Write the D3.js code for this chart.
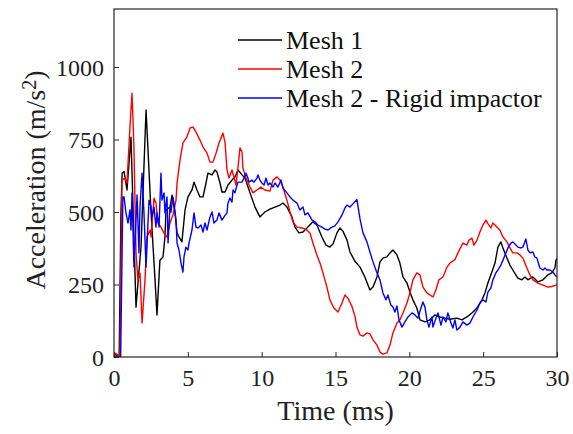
<!DOCTYPE html>
<html>
<head>
<meta charset="utf-8">
<script src="https://cdn.jsdelivr.net/npm/d3@7"></script>
<style>
  html, body { margin: 0; padding: 0; background: #fff; }
  svg { display: block; }
</style>
</head>
<body>
<svg id="chart" width="573" height="434"></svg>
<script>
// Acceleration histories: [time (ms), acceleration (m/s^2)]
const mesh1 = [
  [0,10],[0.2,5],[0.35,0],[0.47,500],[0.55,634],[0.68,640],[0.88,576],[1.15,758],[1.49,172],[1.83,380],
  [2.17,852],[2.51,497],[2.78,265],[2.91,145],[3.11,334],[3.32,345],[3.45,414],[3.52,507],[3.79,517],[3.93,558],
  [4.13,497],[4.27,428],[4.40,414],[4.60,397],[4.81,507],[5.01,552],[5.28,576],[5.42,603],[5.62,576],[5.82,552],
  [6.03,552],[6.23,600],[6.36,634],[6.64,628],[6.84,645],[6.97,638],[7.18,600],[7.31,569],[7.52,569],[7.72,593],
  [7.99,610],[8.19,621],[8.40,645],[8.67,628],[8.87,617],[9.21,566],[9.55,517],[9.88,483],[10.22,500],[10.56,510],
  [10.90,517],[11.24,524],[11.44,531],[11.71,517],[12.05,483],[12.25,448],[12.53,428],[12.80,431],[13.13,448],[13.47,466],
  [13.74,455],[14.08,414],[14.35,386],[14.62,379],[14.83,390],[15.10,428],[15.30,445],[15.50,434],[15.78,403],[15.98,362],
  [16.32,330],[16.66,310],[16.99,276],[17.33,231],[17.54,241],[17.81,276],[18.01,328],[18.21,341],[18.48,345],[18.69,359],
  [18.89,369],[19.16,352],[19.36,324],[19.57,276],[19.84,255],[20.04,224],[20.24,197],[20.51,169],[20.72,128],[21.06,121],
  [21.39,128],[21.73,145],[22.07,138],[22.41,134],[22.75,130],[23.22,134],[23.56,128],[23.90,138],[24.24,152],[24.58,169],
  [24.92,197],[25.12,221],[25.32,255],[25.59,293],[25.80,324],[26.00,379],[26.20,397],[26.34,376],[26.61,341],[26.81,317],
  [27.01,300],[27.35,272],[27.62,266],[27.83,276],[28.03,266],[28.37,276],[28.71,259],[29.05,266],[29.38,283],[29.65,290],
  [29.86,307],[29.93,334],[30,340]
];

const mesh2 = [
  [0,15],[0.2,10],[0.4,0],[0.54,610],[0.74,617],[0.88,600],[1.08,793],[1.22,910],[1.35,724],[1.49,359],
  [1.62,265],[1.76,290],[1.90,117],[2.10,265],[2.23,414],[2.44,438],[2.51,414],[2.71,548],[2.84,531],[2.98,462],
  [3.18,448],[3.45,421],[3.59,414],[3.79,462],[3.99,490],[4.20,541],[4.27,600],[4.47,679],[4.67,738],[4.94,759],
  [5.15,790],[5.35,793],[5.55,776],[5.82,748],[6.03,724],[6.30,703],[6.50,672],[6.70,672],[6.91,703],[7.11,738],
  [7.38,772],[7.52,740],[7.65,645],[7.79,617],[7.99,645],[8.12,621],[8.26,593],[8.40,655],[8.53,721],[8.67,707],
  [8.73,652],[8.94,617],[9.21,586],[9.41,566],[9.68,576],[9.95,586],[10.22,576],[10.56,572],[10.77,610],[11.04,621],
  [11.24,610],[11.44,586],[11.71,541],[11.92,500],[12.12,466],[12.39,448],[12.73,445],[13.07,438],[13.27,428],[13.47,393],
  [13.74,352],[13.95,324],[14.15,290],[14.42,241],[14.62,197],[14.89,169],[15.17,155],[15.44,186],[15.64,214],[15.84,203],
  [16.11,175],[16.32,140],[16.45,103],[16.66,76],[16.86,72],[17.13,83],[17.33,80],[17.54,59],[17.81,41],[18.01,17],
  [18.21,10],[18.48,14],[18.69,41],[18.89,83],[19.16,117],[19.36,128],[19.57,152],[19.84,186],[20.04,221],[20.24,266],
  [20.51,290],[20.72,283],[20.92,241],[21.19,221],[21.39,214],[21.60,207],[21.80,231],[22.00,266],[22.28,276],[22.55,310],
  [22.75,324],[23.09,336],[23.29,359],[23.63,393],[23.90,386],[24.04,403],[24.24,410],[24.37,386],[24.58,403],[24.78,431],
  [24.98,455],[25.19,472],[25.32,460],[25.52,445],[25.66,462],[25.93,448],[26.13,438],[26.34,414],[26.61,397],[26.81,376],
  [27.01,359],[27.29,359],[27.49,352],[27.69,341],[27.96,307],[28.17,283],[28.37,266],[28.71,255],[29.05,248],[29.38,241],
  [29.65,243],[29.93,248],[30,250]
];

const mesh2Rigid = [
  [0,0],[0.45,0],[0.6,552],[0.68,552],[0.81,497],[0.95,462],[1.08,507],[1.15,438],[1.22,566],[1.35,310],
  [1.49,472],[1.56,559],[1.69,359],[1.76,517],[1.90,634],[2.03,497],[2.17,310],[2.23,379],[2.37,541],[2.51,517],
  [2.57,483],[2.71,517],[2.84,448],[2.91,497],[3.05,448],[3.18,634],[3.25,541],[3.39,566],[3.45,497],[3.59,552],
  [3.66,393],[3.79,517],[3.86,500],[3.99,552],[4.06,531],[4.20,472],[4.27,393],[4.40,369],[4.54,324],[4.67,293],
  [4.74,345],[4.87,379],[5.01,369],[5.08,393],[5.28,438],[5.42,497],[5.55,448],[5.69,445],[5.89,455],[6.03,431],
  [6.16,462],[6.30,438],[6.50,483],[6.64,500],[6.77,462],[6.97,472],[7.11,497],[7.31,472],[7.45,483],[7.65,497],
  [7.72,531],[7.85,548],[7.99,534],[8.06,576],[8.19,566],[8.33,593],[8.40,603],[8.67,603],[8.80,617],[8.94,634],
  [9.07,617],[9.14,603],[9.34,610],[9.48,603],[9.68,617],[9.75,628],[9.88,610],[10.02,600],[10.16,593],[10.29,617],
  [10.43,593],[10.56,600],[10.77,586],[10.90,600],[11.10,586],[11.31,610],[11.44,583],[11.71,566],[11.92,552],[12.12,541],
  [12.39,531],[12.59,507],[12.80,517],[12.93,490],[13.13,497],[13.41,472],[13.61,466],[13.81,455],[14.08,448],[14.29,441],
  [14.49,438],[14.76,448],[14.96,452],[15.17,466],[15.44,490],[15.64,514],[15.78,524],[15.98,517],[16.18,528],[16.45,543],
  [16.52,520],[16.66,476],[16.86,428],[17.13,397],[17.33,362],[17.54,328],[17.81,290],[18.01,266],[18.21,221],[18.42,197],
  [18.55,214],[18.75,179],[18.89,172],[19.02,155],[19.16,176],[19.30,128],[19.50,103],[19.70,121],[19.91,138],[20.18,152],
  [20.38,145],[20.58,134],[20.79,169],[20.92,190],[21.06,172],[21.19,128],[21.33,103],[21.53,138],[21.60,103],[21.80,134],
  [21.94,152],[22.14,110],[22.28,138],[22.48,121],[22.61,152],[22.82,117],[22.95,100],[23.09,128],[23.22,93],[23.43,103],
  [23.63,121],[23.90,110],[24.10,117],[24.31,138],[24.58,162],[24.78,186],[24.98,197],[25.19,190],[25.32,224],[25.52,238],
  [25.66,266],[25.86,290],[26.00,300],[26.20,317],[26.34,334],[26.54,359],[26.68,376],[26.88,393],[27.01,397],[27.22,386],
  [27.35,379],[27.56,376],[27.69,379],[27.89,407],[28.03,369],[28.17,359],[28.37,362],[28.50,345],[28.64,341],[28.84,307],
  [29.05,300],[29.18,307],[29.32,300],[29.52,300],[29.72,293],[29.86,283],[30,276]
];

const seriesNames = ["Mesh 1", "Mesh 2", "Mesh 2 - Rigid impactor"];
const seriesColors = ["#000000", "#ff0000", "#0000ff"];
const seriesData = [mesh1, mesh2, mesh2Rigid];

const xTicks = [0, 5, 10, 15, 20, 25, 30];
const yTicks = [0, 250, 500, 750, 1000];
const xDomain = [0, 30];
const yDomain = [0, 1200];

const margin = { left: 114, right: 16, top: 9, bottom: 77 };
const W = 573, H = 434;
const svg = d3.select("#chart");
const axisColor = "#262626";
const FONT = "Liberation Serif";

const x = d3.scaleLinear().domain(xDomain).range([margin.left, W - margin.right]);
const y = d3.scaleLinear().domain(yDomain).range([H - margin.bottom, margin.top]);

svg.append("defs").append("clipPath").attr("id", "plotclip")
  .append("rect")
  .attr("x", x(0)).attr("y", y(1200))
  .attr("width", x(30) - x(0)).attr("height", y(0) - y(1200));

// Curves
const line = d3.line().x(d => x(d[0])).y(d => y(d[1]));
const curves = svg.append("g").attr("clip-path", "url(#plotclip)");
seriesData.forEach((data, i) => {
  curves.append("path")
    .datum(data)
    .attr("d", line)
    .attr("fill", "none")
    .attr("stroke", seriesColors[i])
    .attr("stroke-width", 1.4)
    .attr("stroke-linejoin", "round");
});

// Axes with inward ticks
const xAxis = d3.axisBottom(x).tickValues(xTicks).tickSize(-5).tickPadding(12).tickFormat(d3.format("d"));
const yAxis = d3.axisLeft(y).tickValues(yTicks).tickSize(-5).tickPadding(10).tickFormat(d3.format("d"));

const gx = svg.append("g").attr("transform", `translate(0,${y(0)})`).call(xAxis);
const gy = svg.append("g").attr("transform", `translate(${x(0)},0)`).call(yAxis);

[gx, gy].forEach(g => {
  g.attr("font-family", null).attr("font-size", null);
  g.select(".domain").remove();
  g.selectAll(".tick line").attr("stroke", axisColor).attr("stroke-width", 1);
  g.selectAll(".tick text")
    .attr("fill", "#222")
    .attr("font-family", FONT)
    .attr("font-size", 24);
});
gx.selectAll(".tick text").attr("dy", "0.71em");
gy.selectAll(".tick text").attr("dy", "0.34em");

// Frame
svg.append("rect")
  .attr("x", x(0)).attr("y", y(1200))
  .attr("width", x(30) - x(0)).attr("height", y(0) - y(1200))
  .attr("fill", "none").attr("stroke", axisColor).attr("stroke-width", 1.2);

// Axis titles
svg.append("text")
  .attr("x", (x(0) + x(30)) / 2).attr("y", 420)
  .attr("text-anchor", "middle")
  .attr("fill", "#222")
  .attr("font-family", FONT)
  .attr("font-size", 28)
  .text("Time (ms)");

const yl = svg.append("text")
  .attr("transform", `translate(45,${(y(0) + y(1200)) / 2 - 3}) rotate(-90)`)
  .attr("text-anchor", "middle")
  .attr("fill", "#222")
  .attr("font-family", FONT)
  .attr("font-size", 28);
yl.append("tspan").text("Acceleration (m/s");
yl.append("tspan").attr("dy", "-0.45em").attr("font-size", 20).text("2");
yl.append("tspan").attr("dy", "0.3em").text(")");

// Legend
const legend = svg.append("g");
seriesNames.forEach((name, i) => {
  const ly = 40 + i * 29;
  legend.append("line")
    .attr("x1", 238).attr("x2", 282).attr("y1", ly).attr("y2", ly)
    .attr("stroke", seriesColors[i]).attr("stroke-width", 1.4);
  legend.append("text")
    .attr("x", 286).attr("y", ly).attr("dy", "0.35em")
    .attr("fill", "#111")
    .attr("font-family", FONT)
    .attr("font-size", 26)
    .text(name);
});
</script>
</body>
</html>
